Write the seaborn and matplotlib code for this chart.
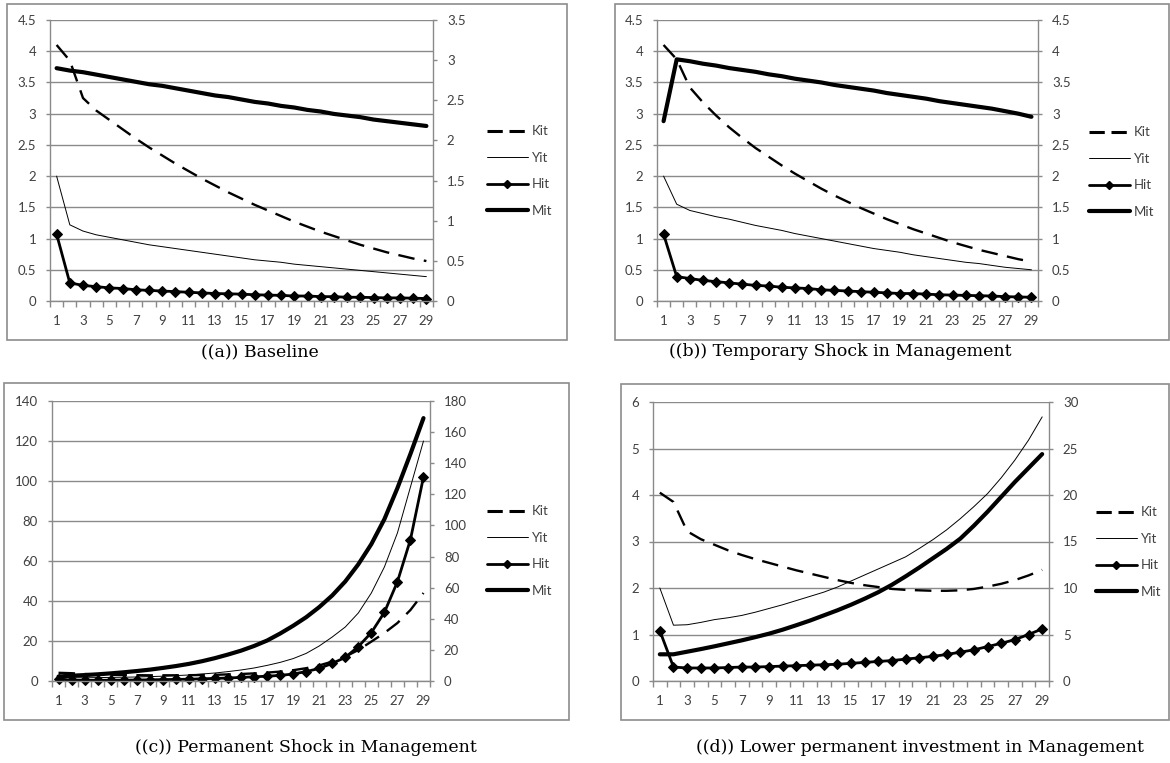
import matplotlib
matplotlib.use('Agg')
import matplotlib.pyplot as plt
import seaborn as sns
from matplotlib.lines import Line2D
from matplotlib.patches import Rectangle
from matplotlib.ticker import FuncFormatter, MultipleLocator

# periods on the category axis
periods = list(range(1, 30))
period_labels = [str(p) for p in range(1, 30, 2)]

# (a) Baseline
kit_a = [4.10, 3.85, 3.25, 3.05, 2.90, 2.75, 2.60, 2.46, 2.33, 2.20, 2.08, 1.96, 1.85, 1.74, 1.64,
         1.54, 1.45, 1.36, 1.27, 1.19, 1.11, 1.04, 0.97, 0.90, 0.84, 0.78, 0.73, 0.68, 0.64]
yit_a = [2.00, 1.22, 1.12, 1.06, 1.02, 0.98, 0.94, 0.90, 0.87, 0.84, 0.81, 0.78, 0.75, 0.72, 0.69,
         0.66, 0.64, 0.62, 0.59, 0.57, 0.55, 0.53, 0.51, 0.49, 0.47, 0.45, 0.43, 0.41, 0.39]
hit_a = [1.07, 0.29, 0.25, 0.23, 0.21, 0.20, 0.18, 0.17, 0.16, 0.15, 0.14, 0.13, 0.12, 0.115, 0.11,
         0.10, 0.095, 0.09, 0.08, 0.08, 0.07, 0.07, 0.06, 0.06, 0.055, 0.05, 0.05, 0.045, 0.04]
mit_a = [2.90, 2.87, 2.85, 2.82, 2.79, 2.76, 2.73, 2.70, 2.68, 2.65, 2.62, 2.59, 2.56, 2.54, 2.51,
         2.48, 2.46, 2.43, 2.41, 2.38, 2.36, 2.33, 2.31, 2.29, 2.26, 2.24, 2.22, 2.20, 2.18]

# (b) Temporary shock in management
kit_b = [4.10, 3.87, 3.42, 3.18, 2.97, 2.78, 2.61, 2.45, 2.31, 2.17, 2.04, 1.92, 1.80, 1.69, 1.59,
         1.49, 1.40, 1.31, 1.23, 1.15, 1.08, 1.01, 0.94, 0.88, 0.82, 0.77, 0.72, 0.67, 0.63]
yit_b = [2.00, 1.55, 1.45, 1.40, 1.35, 1.31, 1.26, 1.21, 1.17, 1.13, 1.08, 1.04, 1.00, 0.96, 0.92,
         0.88, 0.84, 0.81, 0.78, 0.74, 0.71, 0.68, 0.65, 0.62, 0.60, 0.57, 0.54, 0.52, 0.50]
hit_b = [1.07, 0.39, 0.36, 0.33, 0.31, 0.29, 0.27, 0.25, 0.24, 0.22, 0.21, 0.20, 0.18, 0.17, 0.16,
         0.15, 0.14, 0.13, 0.12, 0.12, 0.11, 0.10, 0.095, 0.09, 0.085, 0.08, 0.07, 0.065, 0.06]
mit_b = [2.88, 3.87, 3.84, 3.80, 3.77, 3.73, 3.70, 3.67, 3.63, 3.60, 3.56, 3.53, 3.50, 3.46, 3.43,
         3.40, 3.37, 3.33, 3.30, 3.27, 3.24, 3.20, 3.17, 3.14, 3.11, 3.08, 3.04, 3.00, 2.95]

# (c) Permanent shock in management
kit_c = [4.1, 3.9, 3.5, 3.3, 3.1, 3.0, 2.9, 2.85, 2.85, 2.85, 2.9, 3.0, 3.1, 3.3, 3.5,
         3.8, 4.2, 4.7, 5.4, 6.4, 7.8, 9.7, 12.2, 15.5, 19.7, 24.0, 29.0, 35.5, 44.0]
yit_c = [2.0, 1.6, 1.6, 1.7, 1.8, 1.9, 2.0, 2.2, 2.4, 2.7, 3.0, 3.5, 4.0, 4.7, 5.5,
         6.5, 7.8, 9.3, 11.2, 13.8, 17.5, 22.0, 27.0, 34.0, 44.0, 57.0, 74.0, 97.0, 120.0]
hit_c = [1.07, 0.4, 0.3, 0.35, 0.4, 0.45, 0.5, 0.6, 0.7, 0.8, 0.9, 1.1, 1.3, 1.5, 1.8,
         2.1, 2.4, 2.8, 3.5, 4.7, 6.3, 8.8, 11.8, 17.2, 24.2, 34.3, 49.6, 70.7, 102.0]
mit_c = [2.9, 3.4, 3.8, 4.3, 4.9, 5.6, 6.4, 7.3, 8.4, 9.6, 11.0, 12.7, 14.7, 17.0, 19.5,
         22.5, 26.0, 30.5, 35.5, 41.0, 47.5, 55.0, 64.0, 75.0, 88.0, 104.0, 124.0, 146.0, 169.0]

# (d) Lower permanent investment in management
kit_d = [4.05, 3.85, 3.22, 3.05, 2.93, 2.81, 2.71, 2.62, 2.54, 2.46, 2.38, 2.31, 2.24, 2.17, 2.11,
         2.06, 2.02, 1.98, 1.96, 1.95, 1.94, 1.94, 1.95, 1.98, 2.03, 2.09, 2.17, 2.27, 2.39]
yit_d = [2.00, 1.20, 1.21, 1.26, 1.32, 1.36, 1.41, 1.48, 1.56, 1.64, 1.73, 1.82, 1.91, 2.02, 2.15,
         2.28, 2.41, 2.54, 2.67, 2.85, 3.04, 3.25, 3.49, 3.75, 4.03, 4.37, 4.75, 5.18, 5.68]
hit_d = [1.08, 0.30, 0.28, 0.28, 0.28, 0.29, 0.30, 0.30, 0.31, 0.32, 0.33, 0.34, 0.35, 0.36, 0.38,
         0.40, 0.42, 0.44, 0.47, 0.50, 0.53, 0.57, 0.62, 0.67, 0.74, 0.81, 0.89, 1.00, 1.12]
mit_d = [2.87, 2.87, 3.15, 3.43, 3.73, 4.05, 4.37, 4.72, 5.09, 5.52, 6.00, 6.50, 7.05, 7.60, 8.20,
         8.85, 9.55, 10.35, 11.25, 12.20, 13.20, 14.20, 15.30, 16.70, 18.20, 19.80, 21.40, 22.90, 24.40]

series_names = ['Kit', 'Yit', 'Hit', 'Mit']
captions = ['((a)) Baseline', '((b)) Temporary Shock in Management',
            '((c)) Permanent Shock in Management', '((d)) Lower permanent investment in Management']

sns.set_style('white')
plt.rcParams['font.family'] = ['Lato', 'DejaVu Sans']

W, H = 1170, 763
fig = plt.figure(figsize=(W / 100, H / 100), dpi=100)

GRID = '#8a8a8a'
TXT = '#404040'


def fx(px):
    return px / W


def fy(py):
    return 1 - py / H


def num(v, pos):
    return '{:g}'.format(v)


def draw_panel(box, plot, kit, yit, hit, mit, left_max, left_step, right_max, right_step, leg_x, leg_y, caption, cap_xy):
    # outer frame like the Excel chart area
    bl, bt, br, bb = box
    fig.patches.append(Rectangle((fx(bl), fy(bb)), fx(br - bl), (bb - bt) / H, transform=fig.transFigure,
                                 fill=False, edgecolor='#8c8c8c', linewidth=1.2))
    l, t, r, b = plot
    ax = fig.add_axes([fx(l), fy(b), fx(r - l), (b - t) / H])
    ax2 = ax.twinx()

    sns.lineplot(x=periods, y=kit, ax=ax, color='black', linewidth=1.7, legend=False)
    ax.lines[-1].set_dashes((7, 4))
    sns.lineplot(x=periods, y=yit, ax=ax, color='black', linewidth=0.7, legend=False)
    sns.lineplot(x=periods, y=hit, ax=ax, color='black', linewidth=2.0, marker='D', markersize=5,
                 markeredgecolor='black', legend=False, clip_on=False)
    sns.lineplot(x=periods, y=mit, ax=ax2, color='black', linewidth=3.0, legend=False, clip_on=False)

    ax.set_xlim(0.5, 29.5)
    ax.set_ylim(0, left_max)
    ax2.set_ylim(0, right_max)
    ax.yaxis.set_major_locator(MultipleLocator(left_step))
    ax2.yaxis.set_major_locator(MultipleLocator(right_step))
    ax.yaxis.set_major_formatter(FuncFormatter(num))
    ax2.yaxis.set_major_formatter(FuncFormatter(num))
    ax.set_xticks(list(range(1, 30, 2)))
    ax.set_xticklabels(period_labels)
    ax.set_xticks([k + 0.5 for k in range(0, 30)], minor=True)

    ax.grid(axis='y', color=GRID, linewidth=1.0)
    ax.set_axisbelow(True)
    ax.set_xlabel('')
    ax.set_ylabel('')
    ax2.set_ylabel('')

    for a in (ax, ax2):
        a.spines['top'].set_visible(False)
        for side in ('left', 'right', 'bottom'):
            a.spines[side].set_color(GRID)
            a.spines[side].set_linewidth(1.0)
    ax.spines['right'].set_visible(False)
    ax2.spines['left'].set_visible(False)
    ax2.spines['bottom'].set_visible(False)

    ax.tick_params(axis='y', direction='out', length=3, width=1, color=GRID, labelsize=9.5, labelcolor=TXT, pad=7, left=True)
    ax2.tick_params(axis='y', direction='out', length=3, width=1, color=GRID, labelsize=9.5, labelcolor=TXT, pad=7, right=True)
    ax.tick_params(axis='x', which='major', length=0, labelsize=9.5, labelcolor=TXT, pad=10)
    ax.tick_params(axis='x', which='minor', direction='out', length=4, width=1, color=GRID, bottom=True)

    handles = [Line2D([], [], color='black', linewidth=2.2, dashes=(5, 2.2)),
               Line2D([], [], color='black', linewidth=0.7),
               Line2D([], [], color='black', linewidth=2.0, marker='D', markersize=4.5),
               Line2D([], [], color='black', linewidth=3.0)]
    leg = ax2.legend(handles, series_names, loc='center left', bbox_to_anchor=(fx(leg_x), fy(leg_y)),
                     bbox_transform=fig.transFigure, frameon=False, borderpad=0, borderaxespad=0,
                     handlelength=3.1, handletextpad=0.3, labelspacing=1.1, fontsize=9.5)
    for txt in leg.get_texts():
        txt.set_color(TXT)

    fig.text(fx(cap_xy[0]), fy(cap_xy[1]), caption, ha='center', va='center', fontsize=12.5,
             family=['DejaVu Serif'], color='black')


draw_panel((7, 4, 567, 340), (50, 20, 433, 301), kit_a, yit_a, hit_a, mit_a, 4.5, 0.5, 3.5, 0.5,
           487, 171, captions[0], (260, 352))
draw_panel((615, 4, 1169, 340), (657, 20, 1038, 301), kit_b, yit_b, hit_b, mit_b, 4.5, 0.5, 4.5, 0.5,
           1089, 172, captions[1], (840, 352))
draw_panel((4, 383, 569, 720), (52, 401, 430, 681), kit_c, yit_c, hit_c, mit_c, 140, 20, 180, 20,
           487, 551, captions[2], (306, 748))
draw_panel((621, 384, 1169, 720), (653, 402, 1049, 681), kit_d, yit_d, hit_d, mit_d, 6, 1, 30, 5,
           1096, 552, captions[3], (920, 748))

fig.savefig('out.png', dpi=100)
